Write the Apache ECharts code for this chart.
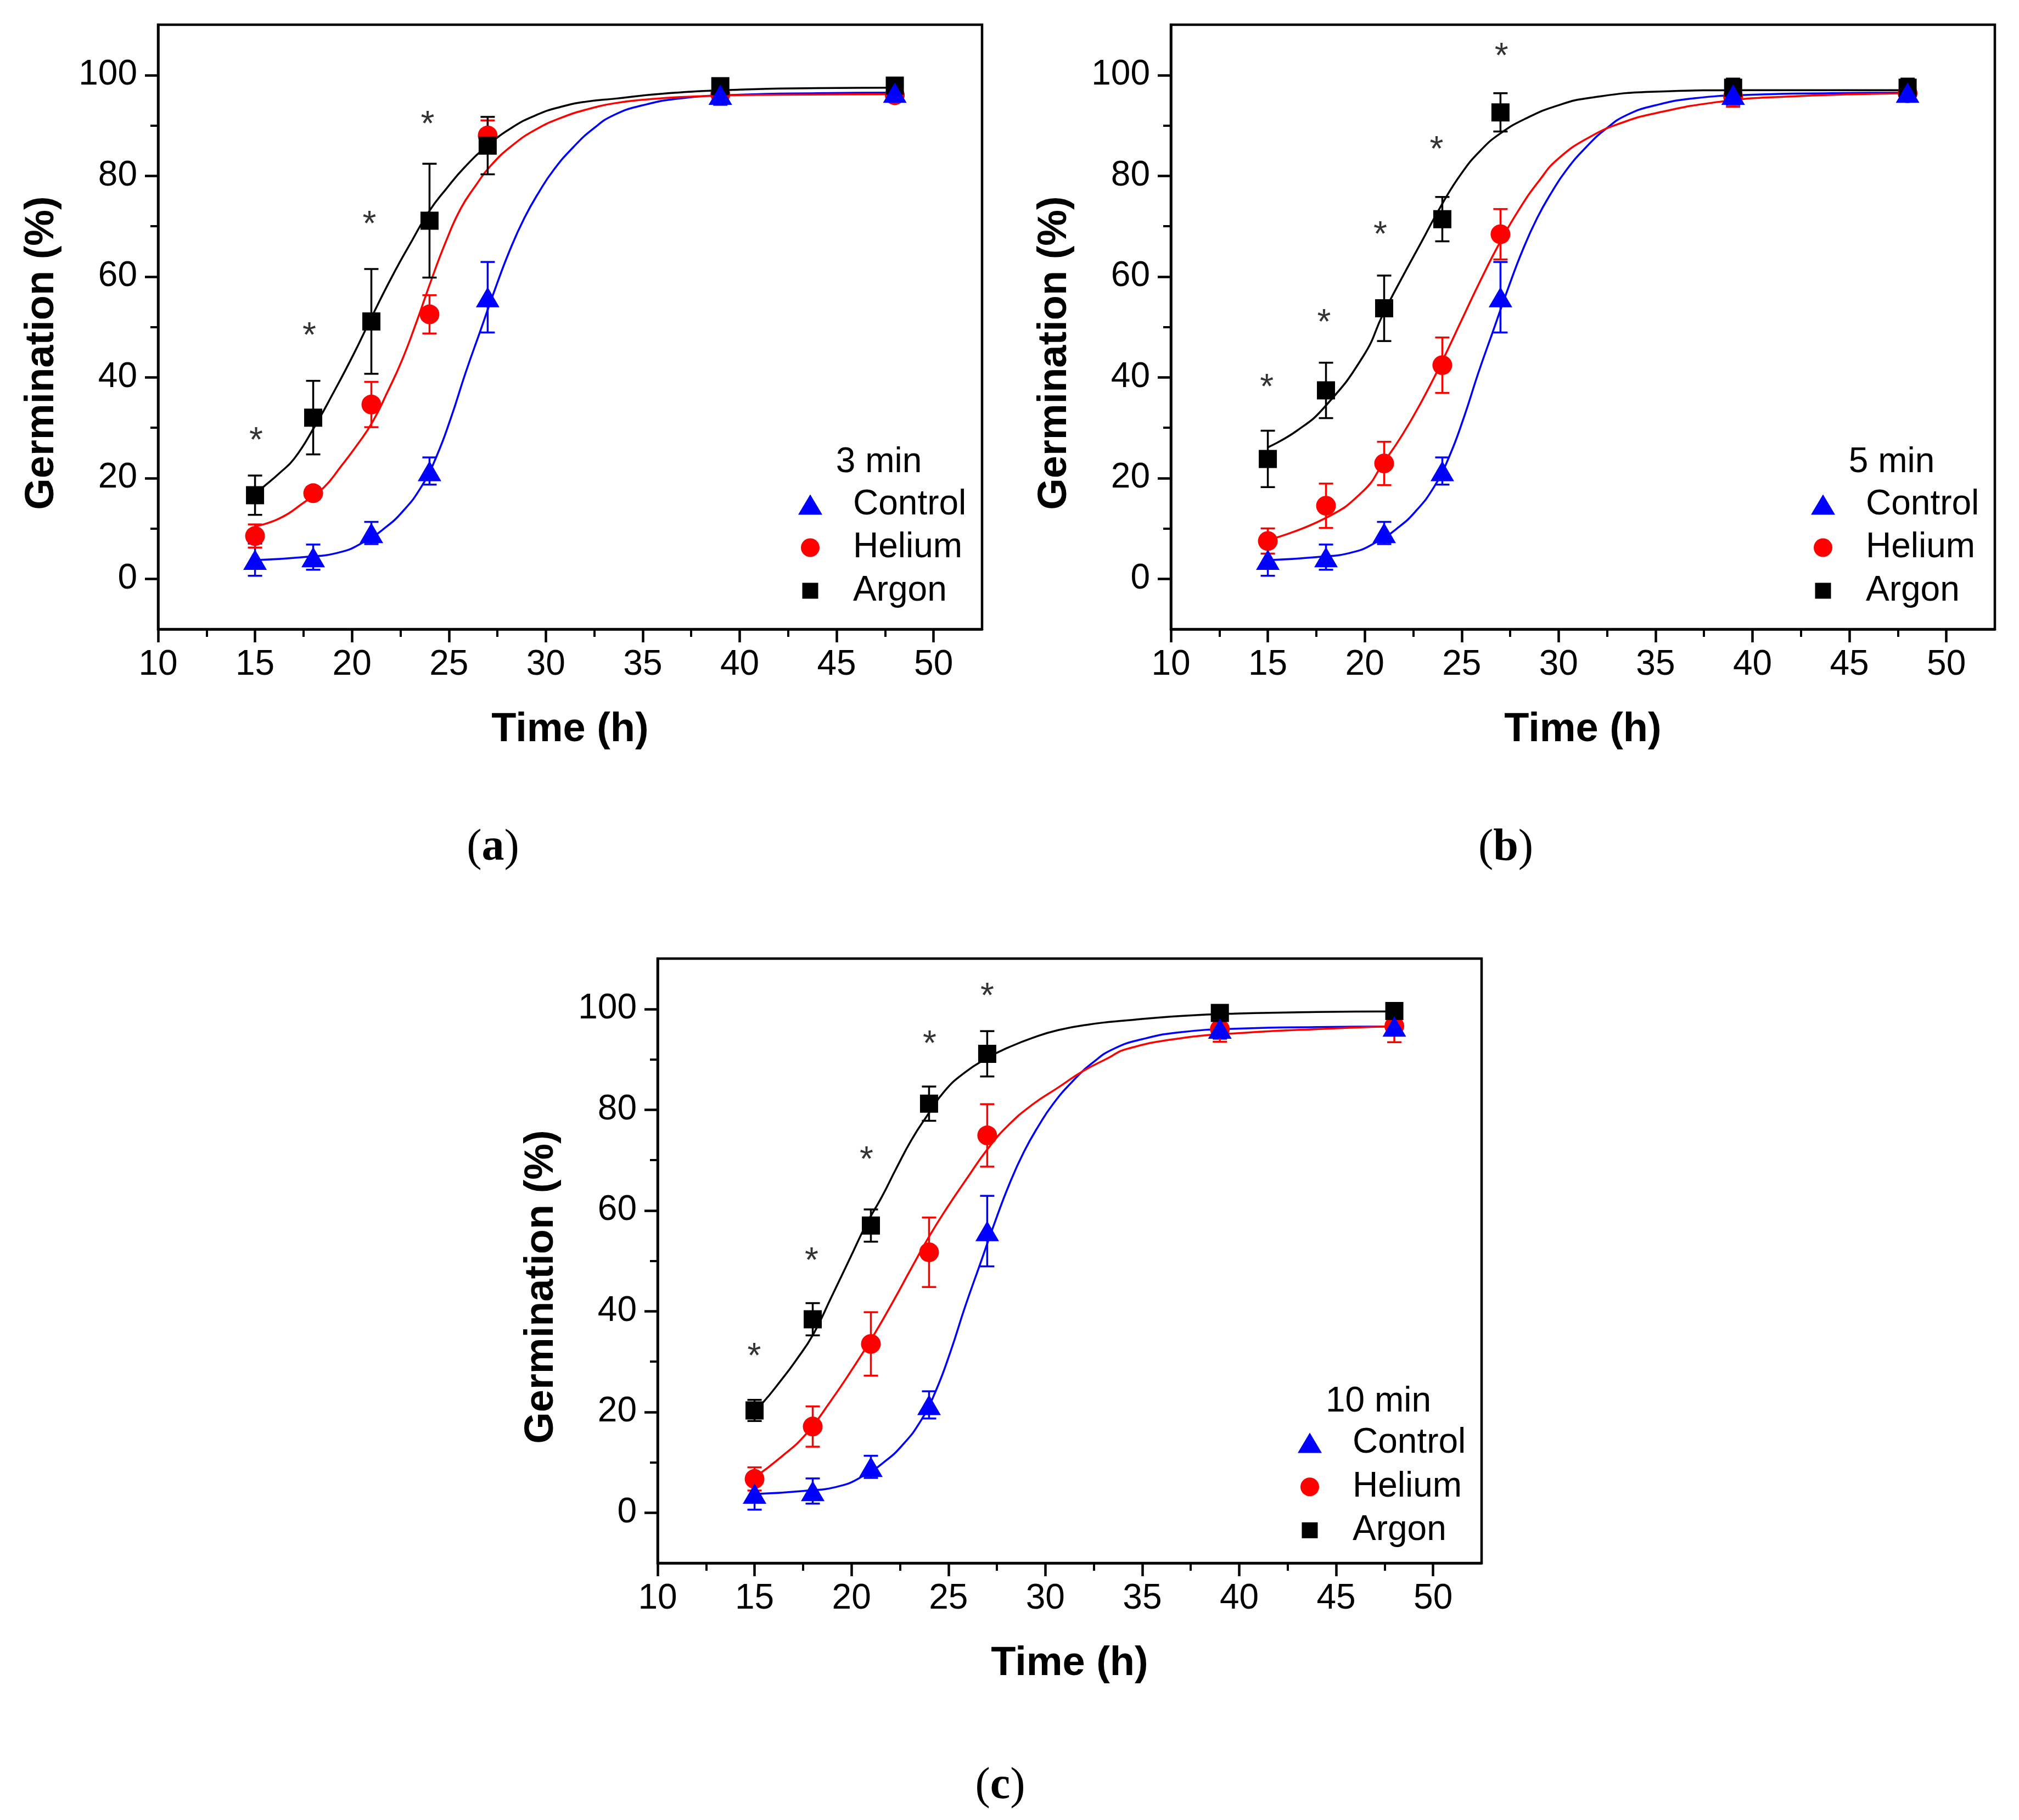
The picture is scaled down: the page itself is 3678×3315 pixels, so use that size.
<!DOCTYPE html>
<html>
<head>
<meta charset="utf-8">
<script src="https://cdn.jsdelivr.net/npm/echarts@6/dist/echarts.min.js"></script>
<style>
html,body{margin:0;padding:0;background:#ffffff;}
#chart{width:3678px;height:3315px;}
</style>
</head>
<body>
<div id="chart"></div>
<script>
// ---------------- DATA ----------------
const hours = [15, 18, 21, 24, 27, 39, 48];

const controlMean = [3.8, 4.3, 9.1, 21.4, 55.9, 96.1, 96.5];
const controlErr  = [3.2, 2.5, 2.2, 2.7, 7.0, 2.0, 1.0];

const helium3Mean = [8.5, 17.0, 34.6, 52.5, 88.0, 96.2, 96.0];
const helium3Err  = [2.3, 1.2, 4.5, 3.8, 3.0, 1.0, 1.0];
const argon3Mean  = [16.6, 32.0, 51.1, 71.1, 86.0, 97.8, 97.9];
const argon3Err   = [3.9, 7.3, 10.4, 11.3, 5.7, 0.8, 0.8];

const helium5Mean = [7.5, 14.5, 22.9, 42.4, 68.4, 95.7, 96.4];
const helium5Err  = [2.5, 4.4, 4.3, 5.5, 5.0, 2.0, 1.5];
const argon5Mean  = [23.8, 37.4, 53.7, 71.4, 92.6, 97.5, 97.5];
const argon5Err   = [5.6, 5.5, 6.5, 4.4, 3.8, 1.8, 1.8];

const helium10Mean = [6.7, 17.1, 33.5, 51.7, 74.9, 96.0, 96.6];
const helium10Err  = [2.3, 4.0, 6.3, 6.9, 6.2, 2.5, 3.2];
const argon10Mean  = [20.3, 38.4, 57.0, 81.2, 91.1, 99.2, 99.6];
const argon10Err   = [2.1, 3.2, 3.2, 3.4, 4.5, 1.0, 1.0];

// significance stars (position of each "*")
const star3X  = [15.05, 17.8, 20.9, 23.9];
const star3Y  = [28.7, 49.5, 71.6, 91.4];
const star5X  = [14.95, 17.9, 20.8, 23.7, 27.05];
const star5Y  = [39.2, 52.1, 69.5, 86.4, 105.0];
const star10X = [14.98, 17.94, 20.77, 24.03, 27.0];
const star10Y = [32.2, 51.2, 71.3, 94.3, 103.8];

// fitted curves
const fitControlX = [15, 17.5, 19.4, 20.7, 21.6, 22.6, 23.6, 24.35, 25.1, 25.86, 26.62, 27.38, 28.14, 28.89, 29.65, 30.41, 31.42, 32.43, 33.53, 35, 37, 40, 44, 48];
const fitControlY = [3.7, 4.3, 5.3, 7.5, 9.8, 13.3, 18.4, 24.2, 31.9, 40.9, 49.2, 57.5, 65.2, 71.6, 76.8, 81.2, 85.7, 89.3, 92.1, 94.0, 95.4, 96.1, 96.4, 96.5];

const fitHelium3X = [15, 16.27, 17.54, 18.54, 19.43, 20.31, 21.07, 21.82, 22.58, 23.34, 24.1, 24.86, 25.61, 26.37, 27.13, 28.26, 29.53, 30.78, 32.04, 33.53, 35, 38, 42, 48];
const fitHelium3Y = [10.4, 12.0, 15.2, 18.1, 22.3, 26.8, 31.2, 37.0, 43.4, 51.1, 59.4, 67.1, 73.5, 78.0, 81.9, 86.0, 89.3, 91.5, 93.1, 94.4, 95.1, 95.8, 96.1, 96.2];
const fitArgon3X  = [15, 15.39, 16.27, 17.03, 18.04, 19.05, 20.06, 21.07, 22.08, 23.09, 23.97, 24.86, 25.86, 27.0, 28.26, 29.53, 30.78, 32.04, 33.53, 36, 40, 44, 48];
const fitArgon3Y  = [16.8, 18.1, 21.0, 23.9, 30.0, 37.0, 44.4, 52.4, 60.1, 67.1, 72.9, 77.4, 81.9, 86.0, 89.6, 92.1, 93.7, 94.7, 95.3, 96.3, 97.1, 97.4, 97.5];

const fitHelium5X = [15, 17.95, 19.94, 20.94, 21.94, 22.93, 23.93, 24.99, 25.99, 26.99, 27.99, 28.99, 29.98, 31.65, 33.31, 34.97, 38.3, 41.6, 48];
const fitHelium5Y = [7.7, 12.0, 17.5, 22.9, 28.6, 35.2, 42.7, 51.3, 59.4, 66.9, 73.5, 79.0, 83.4, 87.8, 90.6, 92.4, 94.7, 95.7, 96.4];
const fitArgon5X  = [15, 16.5, 17.95, 19.94, 20.94, 21.94, 22.93, 23.93, 24.99, 25.99, 26.99, 28.32, 29.98, 31.65, 34.97, 39.96, 48];
const fitArgon5Y  = [26.1, 29.4, 34.2, 44.3, 52.5, 59.9, 66.9, 74.0, 80.5, 85.1, 88.4, 91.4, 94.0, 95.5, 96.7, 97.0, 97.0];

const fitHelium10X = [15, 16.35, 17.65, 18.95, 19.99, 21.03, 22.07, 23.11, 24.03, 24.94, 25.98, 27.02, 28.06, 29.36, 30.66, 31.96, 33.26, 34.14, 37, 40, 44, 48];
const fitHelium10Y = [7.0, 11.0, 15.6, 22.3, 28.2, 34.5, 41.4, 48.7, 55.0, 60.6, 66.5, 72.2, 76.8, 81.1, 84.4, 87.7, 90.3, 92.0, 94.2, 95.2, 96.0, 96.6];
const fitArgon10X  = [15, 15.44, 16.35, 17.13, 18.04, 18.95, 19.86, 20.77, 21.55, 22.33, 23.11, 23.9, 24.8, 25.85, 27.02, 28.06, 29.36, 30.66, 32.22, 34.14, 37, 40, 44, 48];
const fitArgon10Y  = [20.4, 21.9, 26.2, 30.2, 35.5, 42.7, 50.0, 57.3, 62.6, 68.5, 74.1, 78.8, 83.7, 87.4, 90.3, 92.3, 94.3, 95.8, 96.9, 97.7, 98.6, 99.1, 99.4, 99.5];

// axes and labels
const xTicks = [10, 15, 20, 25, 30, 35, 40, 45, 50];
const xMinorTicks = [12.5, 17.5, 22.5, 27.5, 32.5, 37.5, 42.5, 47.5];
const yTicks = [0, 20, 40, 60, 80, 100];
const yMinorTicks = [10, 30, 50, 70, 90];
const seriesNames = ['Control', 'Helium', 'Argon'];
const durations = ['3 min', '5 min', '10 min'];
const panelTags = ['a', 'b', 'c'];
const xTitle = 'Time (h)';
const yTitle = 'Germination (%)';

// ---------------- LAYOUT / STYLE ----------------
const SANS = '"Liberation Sans", Arial, Helvetica, sans-serif';
const SERIF = '"Liberation Serif", "Times New Roman", serif';
const COLORS = { Control: '#0000ff', Helium: '#ff0000', Argon: '#000000' };
const SYMBOLS = { Control: 'triangle', Helium: 'circle', Argon: 'rect' };
const SYMSIZE = { Control: [43, 37], Helium: 36, Argon: 33 };
const LEGSIZE = { Control: [44, 37], Helium: [34, 34], Argon: [29, 29] };
const Z = { Control: 6, Helium: 4, Argon: 5 };

const layouts = [
  { left: 288,  top: 45,   tagX: 898,  tagY: 1545, legRows: [873.5, 952, 1030.5], legTitleY: 797 },
  { left: 2133, top: 45,   tagX: 2743, tagY: 1545, legRows: [873.5, 952, 1030.5], legTitleY: 797 },
  { left: 1198, top: 1746, tagX: 1822, tagY: 3254, legRows: [881.5, 961.7, 1040.8], legTitleY: 807.6 }
];
const GW = 1501, GH = 1101;

const panelData = [
  { Helium: [helium3Mean, helium3Err],  Argon: [argon3Mean, argon3Err],
    fits: { Control: [fitControlX, fitControlY], Helium: [fitHelium3X, fitHelium3Y], Argon: [fitArgon3X, fitArgon3Y] },
    stars: [star3X, star3Y] },
  { Helium: [helium5Mean, helium5Err],  Argon: [argon5Mean, argon5Err],
    fits: { Control: [fitControlX, fitControlY], Helium: [fitHelium5X, fitHelium5Y], Argon: [fitArgon5X, fitArgon5Y] },
    stars: [star5X, star5Y] },
  { Helium: [helium10Mean, helium10Err], Argon: [argon10Mean, argon10Err],
    fits: { Control: [fitControlX, fitControlY], Helium: [fitHelium10X, fitHelium10Y], Argon: [fitArgon10X, fitArgon10Y] },
    stars: [star10X, star10Y] }
];

function errorBarRenderer(color) {
  return function (params, api) {
    const x = api.value(0), y = api.value(1), e = api.value(2);
    const top = api.coord([x, y + e]);
    const bot = api.coord([x, y - e]);
    const half = 13;
    const style = { stroke: color, lineWidth: 3.5, fill: null };
    return {
      type: 'group',
      children: [
        { type: 'line', shape: { x1: top[0], y1: top[1], x2: bot[0], y2: bot[1] }, style: style },
        { type: 'line', shape: { x1: top[0] - half, y1: top[1], x2: top[0] + half, y2: top[1] }, style: style },
        { type: 'line', shape: { x1: bot[0] - half, y1: bot[1], x2: bot[0] + half, y2: bot[1] }, style: style }
      ]
    };
  };
}

const grids = [], xAxes = [], yAxes = [], series = [], legends = [], graphics = [];

layouts.forEach(function (L, i) {
  grids.push({ left: L.left, top: L.top, width: GW, height: GH, containLabel: false,
    outerBoundsMode: 'none', show: true, borderColor: '#000', borderWidth: 4.5, backgroundColor: 'transparent' });

  xAxes.push({
    type: 'value', gridIndex: i, min: 10, max: 52.5, position: 'bottom',
    axisLine: { show: true, onZero: false, lineStyle: { color: '#000', width: 4.5 } },
    axisTick: { show: true, inside: false, length: 24, lineStyle: { color: '#000', width: 4.5 }, customValues: xTicks },
    axisLabel: { show: true, customValues: xTicks, margin: 33, fontSize: 64, color: '#000', fontFamily: SANS },
    splitLine: { show: false }, minorTick: { show: false },
    name: xTitle, nameLocation: 'middle', nameGap: 147,
    nameTextStyle: { fontSize: 74, fontWeight: 'bold', fontFamily: SANS, color: '#000', lineHeight: 74 }
  });
  xAxes.push({
    type: 'value', gridIndex: i, min: 10, max: 52.5, position: 'bottom',
    axisLine: { show: false, onZero: false },
    axisTick: { show: true, inside: false, length: 14, lineStyle: { color: '#000', width: 4 }, customValues: xMinorTicks },
    axisLabel: { show: false }, splitLine: { show: false }
  });
  yAxes.push({
    type: 'value', gridIndex: i, min: -10, max: 110, position: 'left',
    axisLine: { show: true, onZero: false, lineStyle: { color: '#000', width: 4.5 } },
    axisTick: { show: true, inside: false, length: 24, lineStyle: { color: '#000', width: 4.5 }, customValues: yTicks },
    axisLabel: { show: true, customValues: yTicks, margin: 38, fontSize: 64, color: '#000', fontFamily: SANS },
    splitLine: { show: false }, minorTick: { show: false }
  });
  yAxes.push({
    type: 'value', gridIndex: i, min: -10, max: 110, position: 'left',
    axisLine: { show: false, onZero: false },
    axisTick: { show: true, inside: false, length: 14, lineStyle: { color: '#000', width: 4 }, customValues: yMinorTicks },
    axisLabel: { show: false }, splitLine: { show: false }
  });

  const xi = 2 * i, yi = 2 * i;
  const P = panelData[i];
  const groups = {
    Control: [controlMean, controlErr],
    Helium: P.Helium,
    Argon: P.Argon
  };

  seriesNames.forEach(function (name) {
    const fit = P.fits[name];
    series.push({
      type: 'line', name: name + ' fit', xAxisIndex: xi, yAxisIndex: yi,
      data: fit[0].map(function (x, k) { return [x, fit[1][k]]; }),
      smooth: 0.5, showSymbol: false, symbol: 'none',
      lineStyle: { color: COLORS[name], width: 3.5, join: 'round' }, itemStyle: { color: COLORS[name] },
      z: 2, silent: true, animation: false
    });
  });

  seriesNames.forEach(function (name) {
    const g = groups[name];
    series.push({
      type: 'custom', name: name + ' error', xAxisIndex: xi, yAxisIndex: yi,
      renderItem: errorBarRenderer(COLORS[name]),
      encode: { x: 0, y: 1 },
      data: hours.map(function (h, k) { return [h, g[0][k], g[1][k]]; }),
      z: 3, silent: true, animation: false
    });
  });

  seriesNames.forEach(function (name) {
    const g = groups[name];
    series.push({
      type: 'scatter', name: name, xAxisIndex: xi, yAxisIndex: yi,
      symbol: SYMBOLS[name], symbolSize: SYMSIZE[name],
      itemStyle: { color: COLORS[name], opacity: 1 },
      data: hours.map(function (h, k) { return [h, g[0][k]]; }),
      z: Z[name], animation: false
    });
  });

  const st = P.stars;
  series.push({
    type: 'scatter', name: 'significance', xAxisIndex: xi, yAxisIndex: yi,
    symbol: 'circle', symbolSize: 2, itemStyle: { color: 'rgba(0,0,0,0)' },
    data: st[0].map(function (x, k) { return [x, st[1][k]]; }),
    label: { show: true, formatter: '*', position: 'inside', offset: [0, 14],
      fontSize: 64, color: '#000', fontFamily: SANS },
    z: 7, silent: true, animation: false
  });

  seriesNames.forEach(function (name, r) {
    const sz = LEGSIZE[name];
    const iconLeft = L.left + 1188 - sz[0] / 2;
    const textLeft = L.left + 1266;
    const pad = textLeft - (iconLeft + sz[0] + 5);
    legends.push({
      show: true, orient: 'vertical', selectedMode: false, padding: 0,
      left: iconLeft, top: L.top + L.legRows[r] - 31.5,
      itemWidth: sz[0], itemHeight: sz[1],
      data: [{ name: name, icon: SYMBOLS[name] }],
      textStyle: { fontSize: 64, fontFamily: SANS, color: '#000', lineHeight: 63, padding: [0, 0, 0, pad] }
    });
  });

  graphics.push({
    type: 'text', x: L.left + 1313, y: L.top + L.legTitleY, silent: true,
    style: { text: durations[i], fontSize: 64, fontFamily: SANS, fill: '#000',
      align: 'center', verticalAlign: 'middle', textAlign: 'center', textVerticalAlign: 'middle' }
  });
  graphics.push({
    type: 'text', x: L.left - 211, y: L.top + 598, rotation: Math.PI / 2, silent: true,
    style: { text: yTitle, fontSize: 74, fontWeight: 'bold', fontFamily: SANS, fill: '#000',
      align: 'center', verticalAlign: 'middle', textAlign: 'center', textVerticalAlign: 'middle' }
  });
  graphics.push({
    type: 'text', x: L.tagX, y: L.tagY, silent: true,
    style: {
      text: '{p|(}{b|' + panelTags[i] + '}{p|)}',
      rich: {
        p: { fontSize: 82, fontFamily: SERIF, fill: '#000', color: '#000' },
        b: { fontSize: 82, fontFamily: SERIF, fontWeight: 'bold', fill: '#000', color: '#000' }
      },
      align: 'center', verticalAlign: 'middle', textAlign: 'center', textVerticalAlign: 'middle'
    }
  });
});

const chart = echarts.init(document.getElementById('chart'), null, { renderer: 'canvas' });
chart.setOption({
  animation: false,
  backgroundColor: '#ffffff',
  grid: grids,
  xAxis: xAxes,
  yAxis: yAxes,
  legend: legends,
  series: series,
  graphic: graphics
});
</script>
</body>
</html>
